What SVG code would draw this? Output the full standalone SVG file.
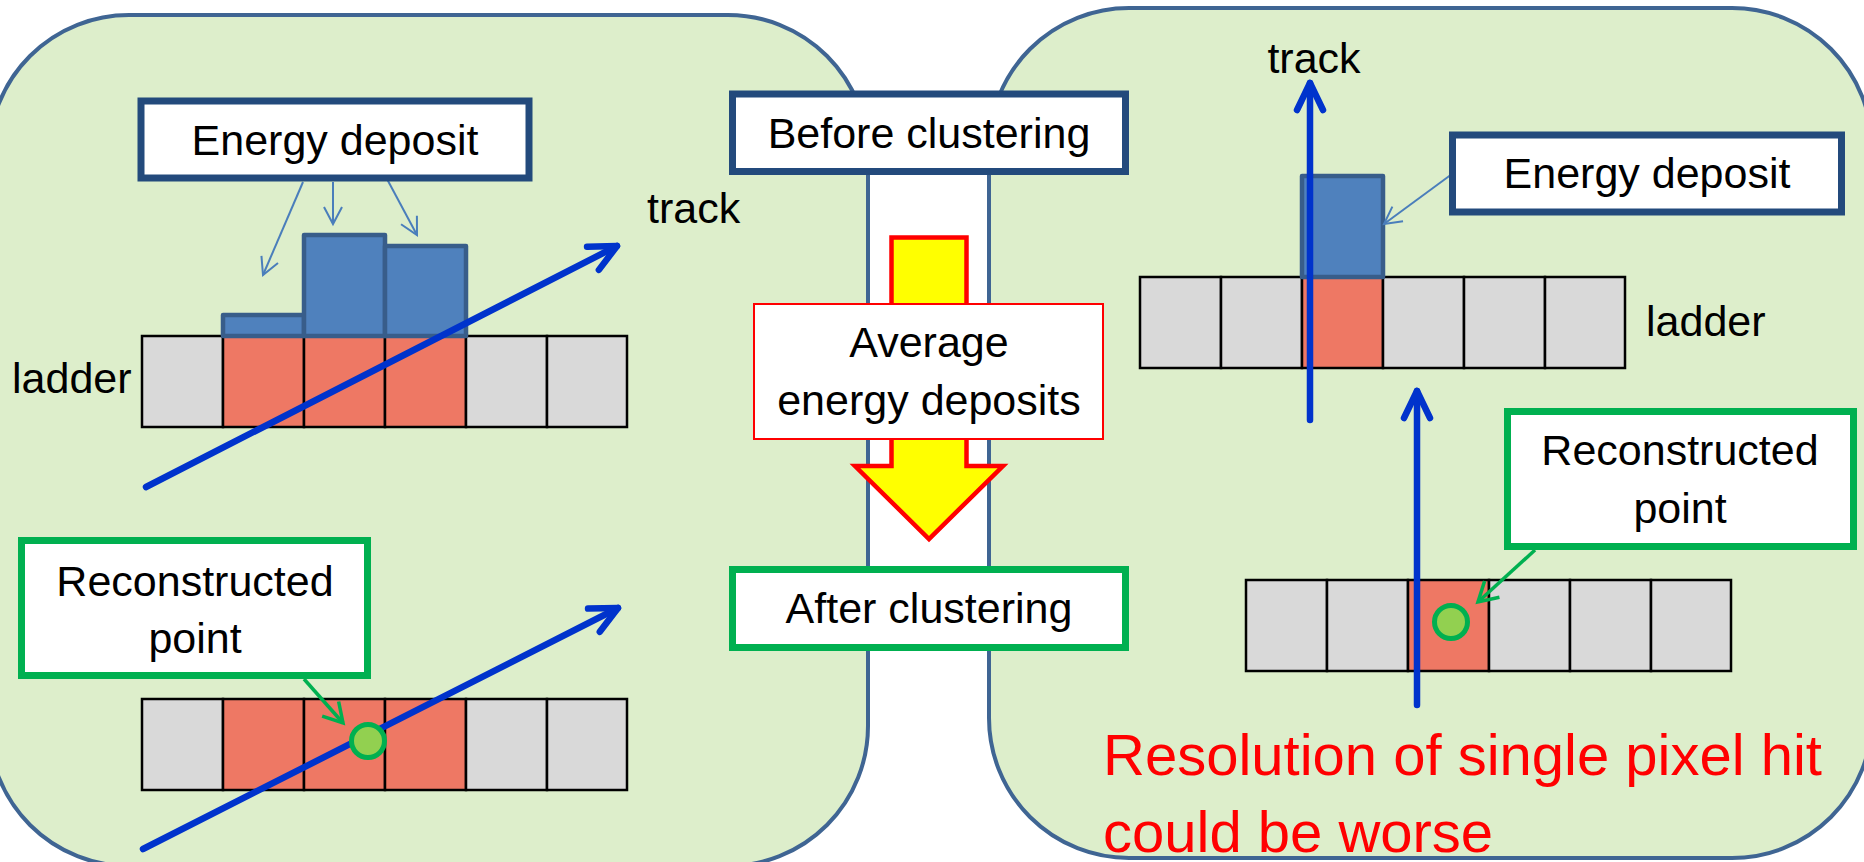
<svg xmlns="http://www.w3.org/2000/svg" width="1864" height="862" viewBox="0 0 1864 862">
  <style>
    .panel { fill: #DDEECB; stroke: #3F6593; stroke-width: 4; }
    .lbl { font-family: "Liberation Sans", Arial, sans-serif; font-size: 43px; fill: #000; }
    .mid { text-anchor: middle; }
    .box-blue { fill: #fff; stroke: #234A7C; stroke-width: 7; }
    .box-green { fill: #fff; stroke: #00B050; stroke-width: 7; }
    .box-red { fill: #fff; stroke: #FF0000; stroke-width: 2; }
    .cell { fill: #D9D9D9; stroke: #000; stroke-width: 2.5; }
    .hit { fill: #EE7864; stroke: #000; stroke-width: 2.5; }
    .bar { fill: #4F81BD; stroke: #385D8A; stroke-width: 4.5; stroke-linejoin: round; }
    .track { stroke: #0033CC; stroke-width: 6.5; fill: none; stroke-linecap: round; }
    .callout-blue { stroke: #4A7EBB; stroke-width: 2; fill: none; }
    .callout-green { stroke: #00B050; stroke-width: 3.5; fill: none; }
    .point { fill: #92D050; stroke: #00B050; stroke-width: 5; }
    .warn { font-family: "Liberation Sans", Arial, sans-serif; font-size: 58px; fill: #FF0000; }
  </style>
  <defs>
    <marker id="headTrack" markerUnits="userSpaceOnUse" viewBox="-32 -18 36 36" refX="0" refY="0" markerWidth="36" markerHeight="36" orient="auto" overflow="visible">
      <path d="M-27,-13 L0,0 L-27,13" fill="none" stroke="#0033CC" stroke-width="6.5" stroke-linecap="round" stroke-linejoin="round"/>
    </marker>
    <marker id="headBlue" markerUnits="userSpaceOnUse" viewBox="-20 -12 24 24" refX="0" refY="0" markerWidth="24" markerHeight="24" orient="auto" overflow="visible">
      <path d="M-17,-9 L0,0 L-17,9" fill="none" stroke="#4A7EBB" stroke-width="2"/>
    </marker>
    <marker id="headGreen" markerUnits="userSpaceOnUse" viewBox="-22 -14 26 28" refX="0" refY="0" markerWidth="26" markerHeight="28" orient="auto" overflow="visible">
      <path d="M-19,-11 L0,0 L-19,11" fill="none" stroke="#00B050" stroke-width="3.5"/>
    </marker>
  </defs>

  <rect width="1864" height="862" fill="#fff"/>

  <!-- two rounded panels -->
  <g id="panel-left">
    <rect class="panel" x="-11" y="15" width="879" height="851" rx="140" ry="140"/>
  </g>
  <g id="panel-right">
    <rect class="panel" x="989" y="8" width="883" height="850" rx="140" ry="140"/>
  </g>

  <!-- left, before clustering: ladder with three hit pixels -->
  <g id="ladder-left-top">
    <rect class="cell" x="142" y="336" width="81" height="91"/>
    <rect class="hit" x="223" y="336" width="81" height="91"/>
    <rect class="hit" x="304" y="336" width="81" height="91"/>
    <rect class="hit" x="385" y="336" width="81" height="91"/>
    <rect class="cell" x="466" y="336" width="81" height="91"/>
    <rect class="cell" x="547" y="336" width="80" height="91"/>
  </g>
  <g id="deposits-left">
    <rect class="bar" x="223" y="315" width="81" height="21"/>
    <rect class="bar" x="304" y="235" width="81" height="101"/>
    <rect class="bar" x="385" y="246" width="81" height="90"/>
  </g>

  <!-- left, after clustering -->
  <g id="ladder-left-bottom">
    <rect class="cell" x="142" y="699" width="81" height="91"/>
    <rect class="hit" x="223" y="699" width="81" height="91"/>
    <rect class="hit" x="304" y="699" width="81" height="91"/>
    <rect class="hit" x="385" y="699" width="81" height="91"/>
    <rect class="cell" x="466" y="699" width="81" height="91"/>
    <rect class="cell" x="547" y="699" width="80" height="91"/>
  </g>

  <!-- right, before clustering: single pixel hit -->
  <g id="ladder-right-top">
    <rect class="cell" x="1140" y="277" width="81" height="91"/>
    <rect class="cell" x="1221" y="277" width="81" height="91"/>
    <rect class="hit" x="1302" y="277" width="81" height="91"/>
    <rect class="cell" x="1383" y="277" width="81" height="91"/>
    <rect class="cell" x="1464" y="277" width="81" height="91"/>
    <rect class="cell" x="1545" y="277" width="80" height="91"/>
  </g>
  <g id="deposit-right">
    <rect class="bar" x="1302" y="176" width="81" height="101"/>
  </g>

  <!-- right, after clustering -->
  <g id="ladder-right-bottom">
    <rect class="cell" x="1246" y="580" width="81" height="91"/>
    <rect class="cell" x="1327" y="580" width="81" height="91"/>
    <rect class="hit" x="1408" y="580" width="81" height="91"/>
    <rect class="cell" x="1489" y="580" width="81" height="91"/>
    <rect class="cell" x="1570" y="580" width="81" height="91"/>
    <rect class="cell" x="1651" y="580" width="80" height="91"/>
  </g>

  <!-- tracks and callout arrows -->
  <g id="connectors">
    <line class="track" x1="146" y1="487" x2="617" y2="246" marker-end="url(#headTrack)"/>
    <line class="track" x1="143" y1="849" x2="618" y2="608" marker-end="url(#headTrack)"/>
    <line class="track" x1="1310" y1="420" x2="1310" y2="83" marker-end="url(#headTrack)"/>
    <line class="track" x1="1417" y1="705" x2="1417" y2="391" marker-end="url(#headTrack)"/>

    <line class="callout-blue" x1="303" y1="182" x2="263" y2="275" marker-end="url(#headBlue)"/>
    <line class="callout-blue" x1="333" y1="182" x2="333" y2="224" marker-end="url(#headBlue)"/>
    <line class="callout-blue" x1="387" y1="179" x2="417" y2="235" marker-end="url(#headBlue)"/>
    <line class="callout-blue" x1="1452" y1="174" x2="1384" y2="224" marker-end="url(#headBlue)"/>

    <line class="callout-green" x1="304" y1="679" x2="343" y2="723" marker-end="url(#headGreen)"/>
    <line class="callout-green" x1="1535" y1="550" x2="1478" y2="602" marker-end="url(#headGreen)"/>
  </g>

  <!-- reconstructed points -->
  <g id="point-left">
    <circle class="point" cx="368" cy="741" r="16.5"/>
  </g>
  <g id="point-right">
    <circle class="point" cx="1451" cy="622" r="16.5"/>
  </g>

  <!-- labels -->
  <g id="label-energy-left">
    <rect class="box-blue" x="141" y="101" width="388" height="77"/>
    <text class="lbl mid" x="335" y="155">Energy deposit</text>
  </g>
  <g id="label-track-left">
    <text class="lbl" x="647" y="223">track</text>
  </g>
  <g id="label-ladder-left">
    <text class="lbl" x="12" y="393">ladder</text>
  </g>
  <g id="label-reco-left">
    <rect class="box-green" x="21.5" y="540.5" width="346" height="135"/>
    <text class="lbl mid" x="195" y="596">Reconstructed</text>
    <text class="lbl mid" x="195" y="653">point</text>
  </g>

  <g id="label-track-right">
    <text class="lbl mid" x="1314" y="73">track</text>
  </g>
  <g id="label-energy-right">
    <rect class="box-blue" x="1452.5" y="135" width="389" height="77"/>
    <text class="lbl mid" x="1647" y="188">Energy deposit</text>
  </g>
  <g id="label-ladder-right">
    <text class="lbl" x="1646" y="336">ladder</text>
  </g>
  <g id="label-reco-right">
    <rect class="box-green" x="1507.5" y="411.5" width="346" height="135"/>
    <text class="lbl mid" x="1680" y="465">Reconstructed</text>
    <text class="lbl mid" x="1680" y="523">point</text>
  </g>

  <!-- central flow: before -> average -> after -->
  <g id="step-before">
    <rect class="box-blue" x="732.5" y="94" width="393" height="77.5"/>
    <text class="lbl mid" x="929" y="148">Before clustering</text>
  </g>
  <g id="step-arrow">
    <polygon points="891.5,237.5 966.5,237.5 966.5,466 1003,466 929,539 855,466 891.5,466" fill="#FFFF00" stroke="#FF0000" stroke-width="4.5"/>
  </g>
  <g id="step-average">
    <rect class="box-red" x="754" y="304" width="349" height="135"/>
    <text class="lbl mid" x="929" y="357">Average</text>
    <text class="lbl mid" x="929" y="415">energy deposits</text>
  </g>
  <g id="step-after">
    <rect class="box-green" x="732.5" y="569.5" width="393" height="78"/>
    <text class="lbl mid" x="929" y="623">After clustering</text>
  </g>

  <g id="note-resolution">
    <text class="warn" x="1103" y="775">Resolution of single pixel hit</text>
    <text class="warn" x="1103" y="852">could be worse</text>
  </g>
</svg>
